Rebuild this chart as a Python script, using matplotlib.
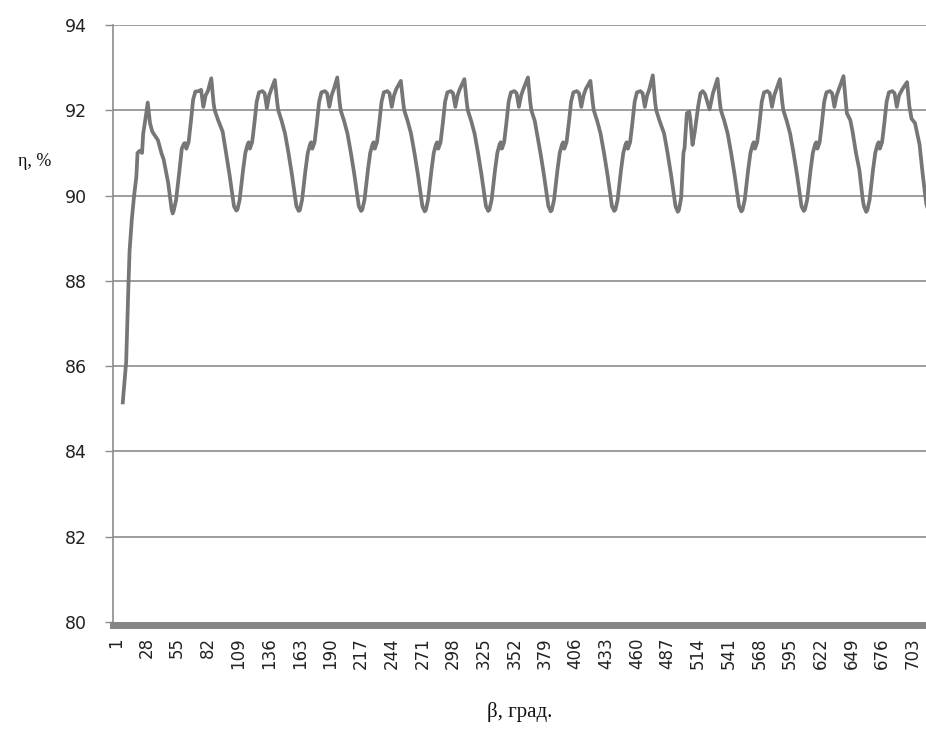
import matplotlib
matplotlib.use("Agg")
import matplotlib.pyplot as plt

# ---- data (β in degrees, η in %) ----
beta_start = [7, 10, 12, 13, 15, 17, 19, 20, 22, 24, 25, 27, 29, 31, 33, 35, 38, 41, 43, 47, 50]
eta_start = [85.15, 86.1, 87.9, 88.7, 89.45, 90.0, 90.45, 91.0, 91.05, 91.0, 91.45, 91.8, 92.18,
             91.7, 91.5, 91.42, 91.3, 91.0, 90.85, 90.3, 89.68]

beta_c1 = [51, 52, 54, 57, 59, 61, 62, 63, 65, 67, 69, 71, 74, 76, 78, 80, 82, 85, 87, 88, 91, 95, 98, 101, 104, 105]
eta_c1 = [89.58, 89.66, 89.9, 90.6, 91.1, 91.22, 91.23, 91.1, 91.25, 91.73, 92.25, 92.44, 92.45, 92.48, 92.08, 92.35,
          92.45, 92.75, 92.17, 92.0, 91.77, 91.5, 91.0, 90.5, 89.95, 89.75]

beta_c2 = [107, 108, 110, 113, 115, 117, 118, 119, 121, 123, 125, 127, 130, 132, 134, 136, 138, 141, 143, 144, 147, 150, 153, 156, 159, 160]
eta_c2 = [89.65, 89.67, 89.9, 90.6, 91.0, 91.2, 91.25, 91.1, 91.25, 91.7, 92.2, 92.42, 92.45, 92.4, 92.05, 92.35,
          92.5, 92.71, 92.2, 92.0, 91.75, 91.45, 91.0, 90.5, 89.95, 89.75]

beta_c3 = [162, 163, 165, 168, 170, 172, 173, 174, 176, 178, 180, 182, 185, 187, 189, 191, 193, 196, 198, 199, 202, 205, 208, 211, 214, 215]
eta_c3 = [89.64, 89.66, 89.9, 90.6, 91.0, 91.2, 91.25, 91.1, 91.25, 91.7, 92.2, 92.42, 92.45, 92.4, 92.08, 92.35,
          92.5, 92.77, 92.2, 92.0, 91.75, 91.45, 91.0, 90.5, 89.95, 89.75]

beta_c4 = [217, 218, 220, 223, 225, 227, 228, 229, 231, 233, 235, 237, 240, 242, 244, 246, 248, 252, 254, 255, 258, 261, 264, 267, 270, 271]
eta_c4 = [89.64, 89.67, 89.9, 90.6, 91.0, 91.2, 91.25, 91.1, 91.25, 91.7, 92.2, 92.42, 92.45, 92.4, 92.08, 92.35,
          92.5, 92.69, 92.2, 92.0, 91.75, 91.45, 91.0, 90.5, 89.95, 89.75]

beta_c5 = [273, 274, 276, 279, 281, 283, 284, 285, 287, 289, 291, 293, 296, 298, 300, 302, 304, 308, 310, 311, 314, 317, 320, 323, 326, 327]
eta_c5 = [89.63, 89.66, 89.9, 90.6, 91.0, 91.2, 91.25, 91.1, 91.25, 91.7, 92.2, 92.42, 92.45, 92.4, 92.08, 92.35,
          92.5, 92.73, 92.2, 92.0, 91.75, 91.45, 91.0, 90.5, 89.95, 89.75]

beta_c6 = [329, 330, 332, 335, 337, 339, 340, 341, 343, 345, 347, 349, 352, 354, 356, 358, 360, 364, 366, 367, 370, 372, 375, 378, 381, 382]
eta_c6 = [89.64, 89.67, 89.9, 90.6, 91.0, 91.2, 91.25, 91.1, 91.25, 91.7, 92.2, 92.42, 92.45, 92.4, 92.08, 92.35,
          92.5, 92.77, 92.2, 92.0, 91.75, 91.45, 91.0, 90.5, 89.95, 89.75]

beta_c7 = [384, 385, 387, 390, 392, 394, 395, 396, 398, 400, 402, 404, 407, 409, 411, 413, 415, 419, 421, 422, 425, 428, 431, 434, 437, 438]
eta_c7 = [89.63, 89.66, 89.9, 90.6, 91.0, 91.2, 91.25, 91.1, 91.25, 91.7, 92.2, 92.42, 92.45, 92.4, 92.08, 92.35,
          92.5, 92.69, 92.2, 92.0, 91.75, 91.45, 91.0, 90.5, 89.95, 89.75]

beta_c8 = [440, 441, 443, 446, 448, 450, 451, 452, 454, 456, 458, 460, 463, 465, 467, 469, 471, 474, 476, 477, 480, 484, 487, 490, 493, 494]
eta_c8 = [89.64, 89.67, 89.9, 90.6, 91.0, 91.2, 91.25, 91.1, 91.25, 91.7, 92.2, 92.42, 92.45, 92.4, 92.08, 92.35,
          92.5, 92.82, 92.2, 92.0, 91.75, 91.45, 91.0, 90.5, 89.95, 89.75]

beta_c9 = [496, 497, 499, 501, 502, 504, 506, 507, 509, 511, 514, 516, 518, 520, 524, 527, 531, 533, 534, 537, 540, 543, 546, 549, 550]
eta_c9 = [89.62, 89.66, 89.95, 91.0, 91.12, 91.93, 91.97, 91.8, 91.19, 91.5, 92.1, 92.4, 92.45, 92.38, 92.02, 92.4,
          92.74, 92.2, 92.0, 91.75, 91.45, 91.0, 90.5, 89.95, 89.75]

beta_c10 = [552, 553, 555, 558, 560, 562, 563, 564, 566, 568, 570, 572, 575, 577, 579, 581, 583, 586, 588, 589, 592, 595, 598, 601, 604, 605]
eta_c10 = [89.63, 89.66, 89.9, 90.6, 91.0, 91.2, 91.25, 91.1, 91.25, 91.7, 92.2, 92.42, 92.45, 92.4, 92.08, 92.35,
           92.5, 92.73, 92.2, 92.0, 91.75, 91.45, 91.0, 90.5, 89.95, 89.75]

beta_c11 = [607, 608, 610, 613, 615, 617, 618, 619, 621, 623, 625, 627, 630, 632, 634, 636, 638, 642, 644, 645, 648, 650, 653, 656, 659, 660]
eta_c11 = [89.64, 89.67, 89.9, 90.6, 91.0, 91.2, 91.25, 91.1, 91.25, 91.7, 92.2, 92.42, 92.45, 92.4, 92.08, 92.35,
           92.5, 92.8, 92.2, 91.93, 91.77, 91.5, 91.0, 90.6, 89.9, 89.75]

beta_c12 = [662, 663, 665, 668, 670, 672, 673, 674, 676, 678, 680, 682, 685, 687, 689, 691, 694, 698, 700, 702, 705, 709, 712, 715, 717, 719]
eta_c12 = [89.62, 89.66, 89.9, 90.6, 91.0, 91.2, 91.25, 91.1, 91.25, 91.7, 92.2, 92.42, 92.45, 92.4, 92.08, 92.35,
           92.5, 92.66, 92.1, 91.8, 91.7, 91.2, 90.45, 89.8, 89.64, 89.7]

x_ticks = list(range(1, 704, 27))
y_ticks = [80, 82, 84, 86, 88, 90, 92, 94]

beta = (beta_start + beta_c1 + beta_c2 + beta_c3 + beta_c4 + beta_c5 + beta_c6 + beta_c7
        + beta_c8 + beta_c9 + beta_c10 + beta_c11 + beta_c12)
eta = (eta_start + eta_c1 + eta_c2 + eta_c3 + eta_c4 + eta_c5 + eta_c6 + eta_c7
       + eta_c8 + eta_c9 + eta_c10 + eta_c11 + eta_c12)

# ---- drawing ----
W, H = 926, 729
fig = plt.figure(figsize=(W / 100, H / 100), dpi=100)
ax = fig.add_axes([113 / W, 1 - 622 / H, (926 - 113) / W, (622 - 25) / H])

grid_c = "#8c8c8c"
ax.set_ylim(80, 94)
ax.set_xlim(-1.6, 714.7)
ax.set_yticks(y_ticks)
ax.set_xticks(x_ticks)
ax.set_xticklabels([str(t) for t in x_ticks])
ax.set_yticklabels([str(t) for t in y_ticks])
ax.tick_params(axis="y", length=6, width=1, color=grid_c, pad=13, labelsize=12.5, labelcolor="#222222")
ax.tick_params(axis="x", length=0, pad=9, labelsize=12, labelcolor="#222222", labelrotation=90)
for lab in ax.get_xticklabels():
    lab.set_verticalalignment("top")
    lab.set_horizontalalignment("center")
for yv in y_ticks[1:]:
    ax.axhline(yv, color=grid_c, linewidth=1.2, zorder=1)

for s in ["top", "right"]:
    ax.spines[s].set_visible(False)
ax.spines["left"].set_color(grid_c)
ax.spines["left"].set_linewidth(1.2)
ax.spines["bottom"].set_color("#858585")
ax.spines["bottom"].set_linewidth(5)
ax.spines["bottom"].set_position(("outward", 2))

ax.plot(beta, eta, color="#767676", linewidth=2.7, solid_joinstyle="round", zorder=3)

fig.text(35 / W, 1 - 162 / H, "η, %", family="Liberation Serif", fontsize=13,
         ha="center", va="center", color="#111111")
fig.text(520 / W, 1 - 712 / H, "β, град.", family="Liberation Serif", fontsize=15,
         ha="center", va="center", color="#111111")

fig.savefig("out.png", dpi=100)
